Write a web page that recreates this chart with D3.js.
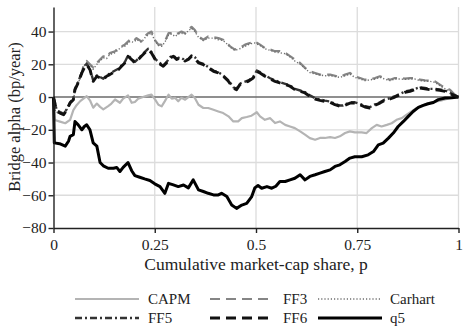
<!DOCTYPE html>
<html>
<head>
	<meta charset="utf-8">
	<title></title>
	<style type="text/css">
body {
  margin: 0;
  background: #fff;
}

svg text {
  font-family: "Liberation Serif", "Times New Roman", "DejaVu Serif", serif;
  fill: #222;
}

.grid line {
  stroke: #dcdcdc;
  stroke-width: 1.3px;
}

.axis path, .axis line {
  stroke: #222;
  stroke-width: 1.4px;
}
	</style>
</head>
<body>
	<svg width="467" height="332" font-family="Liberation Serif, serif"></svg>

	<script src="https://d3js.org/d3.v7.min.js"></script>
	<script type="text/javascript">
		// [p, alpha] pairs
		var capm = [[0,0],[0.003,-14],[0.016,-15],[0.029,-16],[0.041,-14],[0.049,-8],[0.057,-5],[0.066,-2.5],[0.074,-1],[0.082,0.5],[0.090,-2],[0.098,-6.5],[0.107,-4],[0.115,-6],[0.123,-7.5],[0.135,-5.5],[0.143,-4],[0.152,-1.5],[0.164,-3.5],[0.172,-1],[0.184,1],[0.193,-3.5],[0.201,-3],[0.209,-1],[0.221,0],[0.234,1],[0.242,1.5],[0.251,-1.6],[0.259,-4.7],[0.267,-5.7],[0.275,-2.5],[0.284,1.4],[0.292,-1],[0.300,-0.5],[0.308,-2.6],[0.316,-0.5],[0.325,-1.6],[0.333,0],[0.341,1.4],[0.349,-0.6],[0.358,-4.7],[0.370,-6.7],[0.382,-6.7],[0.395,-7.8],[0.407,-8.8],[0.419,-9.8],[0.432,-11.8],[0.444,-14.9],[0.456,-14.9],[0.465,-12.9],[0.477,-12.2],[0.489,-11.4],[0.502,-9.3],[0.510,-11.8],[0.522,-13.9],[0.535,-12.9],[0.547,-15.9],[0.559,-14.9],[0.572,-17],[0.584,-18],[0.596,-19],[0.609,-21],[0.621,-23],[0.633,-25.1],[0.646,-26.1],[0.658,-25],[0.670,-25],[0.683,-24.5],[0.695,-25],[0.707,-24],[0.720,-22],[0.732,-21],[0.744,-21.6],[0.761,-21.6],[0.773,-22],[0.786,-19],[0.798,-17],[0.810,-18],[0.823,-17],[0.835,-16],[0.847,-13.9],[0.860,-12.9],[0.872,-10.8],[0.884,-8.8],[0.897,-6.7],[0.909,-5.3],[0.921,-4.1],[0.934,-3.3],[0.946,-2.7],[0.958,-2],[0.971,-1.2],[0.983,-0.6],[1,0]]

		var ff3 = [[0,0],[0.005,-8],[0.016,-9],[0.025,-10],[0.033,-7.5],[0.041,-3.5],[0.049,-1.5],[0.053,4.5],[0.061,9],[0.070,15],[0.074,19],[0.082,22],[0.090,20],[0.098,18],[0.107,20.8],[0.115,22.9],[0.123,24.9],[0.131,24],[0.139,26.9],[0.152,27.9],[0.160,30],[0.168,31],[0.176,32],[0.189,35],[0.197,34],[0.205,36],[0.217,34],[0.225,37],[0.234,39],[0.242,40],[0.250,35],[0.259,32],[0.267,32],[0.275,34],[0.284,39],[0.292,39],[0.300,38],[0.308,39],[0.316,40],[0.325,39],[0.333,41.2],[0.341,42.9],[0.349,41],[0.358,37],[0.370,35],[0.382,37],[0.395,36.5],[0.407,36],[0.419,35],[0.428,33],[0.436,31],[0.448,29],[0.460,30],[0.473,32],[0.485,33],[0.497,34],[0.510,32],[0.522,30],[0.535,29],[0.547,28],[0.559,28],[0.572,27],[0.584,25],[0.596,22.9],[0.609,20.8],[0.621,17.8],[0.633,15.7],[0.646,14.7],[0.658,13.7],[0.670,13.7],[0.683,13.7],[0.695,13],[0.707,12.2],[0.720,13.7],[0.732,14.7],[0.744,12.7],[0.757,11.6],[0.769,10.6],[0.781,10.6],[0.794,11.6],[0.806,12.7],[0.818,11.6],[0.831,10.6],[0.843,11.6],[0.855,11.6],[0.868,11.2],[0.880,11.6],[0.892,11.6],[0.905,10.6],[0.917,10.2],[0.929,10],[0.942,9.6],[0.954,7.6],[0.967,5.5],[0.979,4.5],[0.991,1.4],[1,0]]

		var carhart = [[0,0],[0.005,-9],[0.016,-10],[0.025,-10.5],[0.033,-8],[0.041,-4],[0.049,-2],[0.053,4],[0.061,8.5],[0.070,14.5],[0.074,18.5],[0.082,21],[0.090,19.5],[0.098,17],[0.107,20],[0.115,22],[0.123,24],[0.131,23.5],[0.139,26],[0.152,27],[0.160,29],[0.168,30.5],[0.176,31],[0.189,34],[0.197,33.5],[0.205,35],[0.217,33.5],[0.225,36],[0.234,38],[0.242,39],[0.250,34.5],[0.259,31.5],[0.267,31],[0.275,33.5],[0.284,38],[0.292,38.5],[0.300,37],[0.308,38.5],[0.316,39],[0.325,38.5],[0.333,40.5],[0.341,42],[0.349,40],[0.358,36.5],[0.370,34.5],[0.382,36],[0.395,36],[0.407,35],[0.419,34.5],[0.428,32.5],[0.436,30.5],[0.448,28.5],[0.460,29.5],[0.473,31],[0.485,32.5],[0.497,33],[0.510,31.5],[0.522,29.5],[0.535,28.5],[0.547,27.5],[0.559,27],[0.572,26.5],[0.584,24.5],[0.596,22],[0.609,20],[0.621,17.5],[0.633,15],[0.646,14],[0.658,13.5],[0.670,13],[0.683,13],[0.695,12.5],[0.707,12],[0.720,13],[0.732,14],[0.744,12],[0.757,11],[0.769,10],[0.781,10.5],[0.794,11],[0.806,12],[0.818,11],[0.831,10],[0.843,11],[0.855,11],[0.868,10.8],[0.880,11],[0.892,11],[0.905,10],[0.917,9.8],[0.929,9.6],[0.942,9],[0.954,7],[0.967,5],[0.979,4],[0.991,1],[1,0]]

		var ff5 = [[0,0],[0.008,-8],[0.016,-9.3],[0.025,-10.3],[0.033,-7.3],[0.041,-3.2],[0.049,-1],[0.053,5],[0.061,9.2],[0.070,15.2],[0.078,19.3],[0.082,20.3],[0.090,17.2],[0.098,10.2],[0.107,13.2],[0.115,12.3],[0.123,11.2],[0.131,13.2],[0.139,14.3],[0.152,16.2],[0.160,17.3],[0.168,19.3],[0.176,21.3],[0.184,25.4],[0.193,23.4],[0.201,21.4],[0.209,23.4],[0.217,25.4],[0.225,27.4],[0.234,29.5],[0.242,27.4],[0.251,23.4],[0.259,21.4],[0.271,19.3],[0.279,21.3],[0.288,24.4],[0.296,25.4],[0.304,23.4],[0.312,24.4],[0.325,22.5],[0.333,23.4],[0.341,25.4],[0.349,24.4],[0.358,21.3],[0.370,20.3],[0.382,18.3],[0.395,16.2],[0.407,15.2],[0.419,13.2],[0.432,10.2],[0.444,6],[0.452,5],[0.460,8.1],[0.469,9.1],[0.481,10.1],[0.493,12.1],[0.502,16.2],[0.510,15.2],[0.522,13.2],[0.535,11.5],[0.547,10.1],[0.559,9.1],[0.572,8.1],[0.584,7.1],[0.596,5],[0.609,4],[0.621,3],[0.633,1],[0.646,-0.7],[0.658,-1.5],[0.670,-2.2],[0.683,-2.7],[0.695,-4.2],[0.707,-5.2],[0.715,-5.2],[0.723,-4.2],[0.732,-3.2],[0.744,-3.2],[0.757,-4.2],[0.769,-5.6],[0.781,-6.2],[0.794,-4.5],[0.806,-3.2],[0.818,-1.5],[0.831,-0.7],[0.843,0.5],[0.855,1.9],[0.868,3.4],[0.880,4],[0.892,5],[0.905,6],[0.917,5.5],[0.929,5],[0.942,5],[0.954,4.6],[0.967,4],[0.979,2.5],[0.991,1.1],[1,0]]

		var ff6 = [[0,0],[0.008,-8.8],[0.016,-9.8],[0.025,-10.8],[0.033,-7.8],[0.041,-3.7],[0.049,-1.6],[0.053,4.5],[0.061,8.6],[0.070,14.7],[0.078,18.8],[0.082,19.8],[0.090,16.7],[0.098,9.6],[0.107,12.7],[0.115,11.7],[0.123,10.6],[0.131,12.7],[0.139,13.7],[0.152,15.7],[0.160,16.7],[0.168,18.8],[0.176,20.8],[0.184,24.9],[0.193,22.9],[0.201,20.8],[0.209,22.9],[0.217,24.9],[0.225,26.9],[0.234,29],[0.242,26.9],[0.251,22.9],[0.259,20.8],[0.271,18.8],[0.279,20.8],[0.288,23.9],[0.296,24.9],[0.304,22.9],[0.312,23.9],[0.325,22],[0.333,22.9],[0.341,24.9],[0.349,23.9],[0.358,20.8],[0.370,19.8],[0.382,17.8],[0.395,15.7],[0.407,14.7],[0.419,12.7],[0.432,9.6],[0.444,5.5],[0.452,4.5],[0.460,7.6],[0.469,8.6],[0.481,9.6],[0.493,11.6],[0.502,15.7],[0.510,14.7],[0.522,12.7],[0.535,11],[0.547,9.6],[0.559,8.6],[0.572,7.6],[0.584,6.6],[0.596,4.5],[0.609,3.5],[0.621,2.5],[0.633,0.4],[0.646,-1.2],[0.658,-2],[0.670,-2.7],[0.683,-3.2],[0.695,-4.7],[0.707,-5.7],[0.715,-5.7],[0.723,-4.7],[0.732,-3.7],[0.744,-3.7],[0.757,-4.7],[0.769,-6.1],[0.781,-6.7],[0.794,-5],[0.806,-3.7],[0.818,-2],[0.831,-1.2],[0.843,0],[0.855,1.4],[0.868,2.9],[0.880,3.5],[0.892,4.5],[0.905,5.5],[0.917,5],[0.929,4.5],[0.942,4.5],[0.954,4.1],[0.967,3.5],[0.979,2],[0.991,0.8],[1,0]]

		var q5 = [[0,0],[0.002,-28],[0.015,-28.5],[0.029,-30],[0.037,-27],[0.041,-24],[0.049,-23],[0.053,-15],[0.061,-17],[0.070,-20],[0.076,-18],[0.082,-17],[0.090,-20],[0.098,-28],[0.107,-30],[0.115,-40],[0.123,-42],[0.135,-43.5],[0.148,-43.5],[0.156,-43],[0.164,-45.5],[0.172,-43],[0.184,-40],[0.193,-45],[0.201,-48],[0.213,-49],[0.225,-50],[0.238,-51],[0.250,-53],[0.263,-54.7],[0.275,-58.8],[0.284,-52.7],[0.296,-53.7],[0.308,-54.7],[0.321,-53.7],[0.333,-55.5],[0.345,-50.6],[0.358,-56.7],[0.370,-57.7],[0.382,-58.8],[0.395,-59.8],[0.407,-59.8],[0.415,-58.8],[0.428,-60.8],[0.440,-65.9],[0.452,-68],[0.465,-66],[0.477,-65],[0.489,-61],[0.497,-55.5],[0.505,-54],[0.514,-55.7],[0.527,-54.7],[0.539,-55.7],[0.549,-54.5],[0.559,-51.6],[0.572,-51.6],[0.584,-50.6],[0.596,-49.6],[0.609,-47.5],[0.621,-50.6],[0.633,-48.5],[0.646,-47.5],[0.658,-46.5],[0.670,-45.5],[0.683,-44.5],[0.695,-42.4],[0.707,-41.4],[0.720,-39.4],[0.732,-37.3],[0.744,-36.5],[0.761,-36.5],[0.777,-35.3],[0.790,-33.3],[0.802,-29.2],[0.814,-28.2],[0.827,-25.1],[0.839,-22],[0.851,-18],[0.864,-14.9],[0.876,-11.8],[0.888,-8.8],[0.901,-6.3],[0.913,-5.1],[0.925,-4.1],[0.938,-3.3],[0.950,-1.6],[0.967,-0.6],[0.983,-0.4],[1,0]]

		var seriesNames = ["CAPM", "FF3", "Carhart", "FF5", "FF6", "q5"]
		var xTicks = [0, 0.25, 0.5, 0.75, 1]
		var xTickLabels = ["0", "0.25", "0.5", "0.75", "1"]
		var yTicks = [-80, -60, -40, -20, 0, 20, 40]

		var styles = {
			"CAPM":    { color: "#b4b4b4", width: 2.2, dash: null },
			"FF3":     { color: "#858585", width: 2.2, dash: "10,6" },
			"Carhart": { color: "#6e6e6e", width: 1.4, dash: "1.2,2" },
			"FF5":     { color: "#333333", width: 2.4, dash: "7,3,2,3" },
			"FF6":     { color: "#111111", width: 2.9, dash: "10,6" },
			"q5":      { color: "#000000", width: 3, dash: null }
		}
		var seriesData = [capm, ff3, carhart, ff5, ff6, q5]

		var svg = d3.select("svg")
		var plotL = 53.5, plotR = 458.5, plotT = 7, plotB = 228

		var x = d3.scaleLinear().domain([0, 1]).range([plotL, plotR])
		var y = d3.scaleLinear().domain([-80, 55]).range([plotB, plotT])

		// grid
		var grid = svg.append("g").attr("class", "grid")
		grid.selectAll(".vg")
			.data(xTicks.slice(1))
			.enter().append("line")
				.attr("x1", function(d) { return x(d); })
				.attr("x2", function(d) { return x(d); })
				.attr("y1", plotT)
				.attr("y2", plotB)
		grid.selectAll(".hg")
			.data(yTicks.filter(function(d) { return d != 0 && d != -80; }))
			.enter().append("line")
				.attr("x1", plotL)
				.attr("x2", plotR)
				.attr("y1", function(d) { return y(d); })
				.attr("y2", function(d) { return y(d); })

		// zero line
		svg.append("line")
			.attr("x1", plotL).attr("x2", plotR)
			.attr("y1", y(0)).attr("y2", y(0))
			.attr("stroke", "#6a6a6a").attr("stroke-width", 1.6)

		var line = d3.line()
			.x(function(d) { return x(d[0]); })
			.y(function(d) { return y(d[1]); })

		// draw lighter series first
		var order = [0, 1, 2, 5, 3, 4]
		order.forEach(function(i) {
			var s = styles[seriesNames[i]]
			svg.append("path")
				.datum(seriesData[i])
				.attr("fill", "none")
				.attr("stroke", s.color)
				.attr("stroke-width", s.width)
				.attr("stroke-linejoin", "round")
				.attr("stroke-dasharray", s.dash)
				.attr("d", line)
		})

		// axes
		var xAxis = svg.append("g")
			.attr("class", "axis")
			.attr("transform", "translate(0," + plotB + ")")
			.call(d3.axisBottom(x)
				.tickValues(xTicks)
				.tickFormat(function(d, i) { return xTickLabels[i]; })
				.tickSize(5)
				.tickSizeOuter(0))
		xAxis.selectAll("text").attr("font-size", 15.5).attr("dy", "0.9em")

		var yAxis = svg.append("g")
			.attr("class", "axis")
			.attr("transform", "translate(" + plotL + ",0)")
			.call(d3.axisLeft(y)
				.tickValues(yTicks)
				.tickSize(5)
				.tickSizeOuter(0))
		yAxis.selectAll("text").attr("font-size", 15.5).attr("x", -7)
		svg.selectAll(".axis").attr("font-family", null).attr("font-size", null)
		svg.selectAll(".axis text").attr("fill", "#222")

		svg.append("text")
			.attr("x", 256)
			.attr("y", 270)
			.attr("text-anchor", "middle")
			.attr("font-size", 17.5)
			.text("Cumulative market-cap share, p")

		svg.append("text")
			.attr("transform", "translate(20," + 117 + ") rotate(-90)")
			.attr("text-anchor", "middle")
			.attr("font-size", 16.5)
			.text("Bridge alpha (bp/year)")

		// legend
		var legCols = [75, 210, 318]
		var legRows = [299, 318]
		seriesNames.forEach(function(name, i) {
			var s = styles[name]
			var cx = legCols[i % 3], cy = legRows[Math.floor(i / 3)]
			svg.append("line")
				.attr("x1", cx).attr("x2", cx + 64)
				.attr("y1", cy).attr("y2", cy)
				.attr("stroke", s.color)
				.attr("stroke-width", s.width)
				.attr("stroke-dasharray", s.dash)
			svg.append("text")
				.attr("x", cx + (i % 3 == 2 ? 72 : 73))
				.attr("y", cy + 5)
				.attr("font-size", 15)
				.text(name)
		})
	</script>
</body>
</html>
